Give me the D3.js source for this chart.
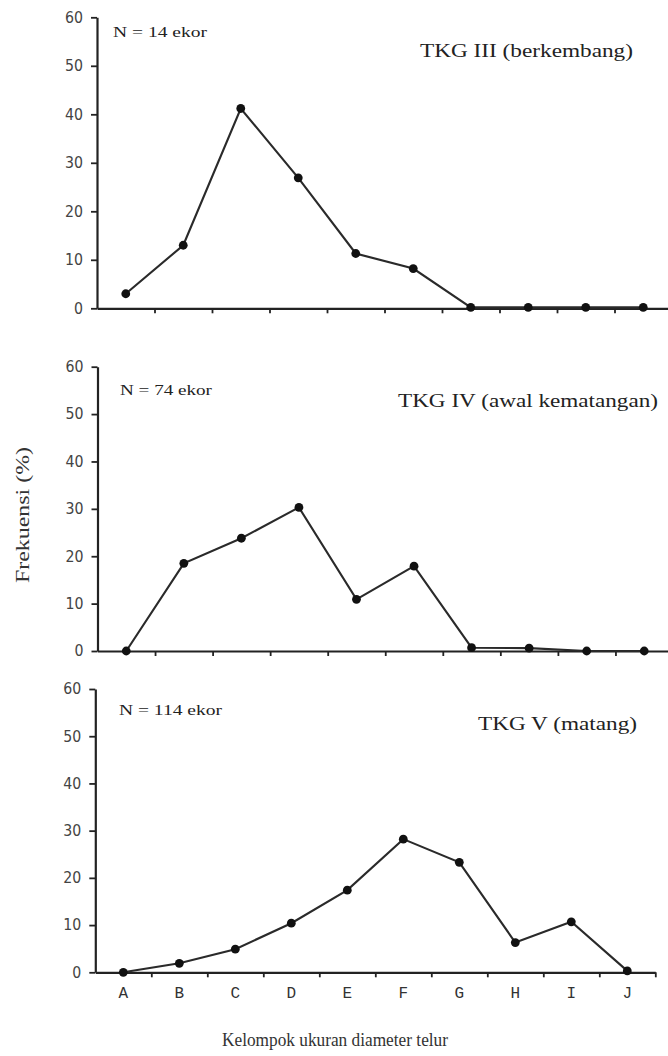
<!DOCTYPE html>
<html><head><meta charset="utf-8">
<script src="https://cdn.jsdelivr.net/npm/d3@7"></script>
<style>body{margin:0;background:#fff}svg{display:block}</style>
</head><body>
<svg id="c" width="668" height="1056"></svg>
<script>
const categories = ["A","B","C","D","E","F","G","H","I","J"];
const yTicks = [0,10,20,30,40,50,60];
const tkg3 = [3, 13, 41.2, 26.9, 11.3, 8.2, 0.2, 0.2, 0.2, 0.2];
const tkg4 = [0, 18.5, 23.8, 30.3, 10.9, 17.9, 0.7, 0.6, 0, 0];
const tkg5 = [0, 1.9, 4.9, 10.4, 17.4, 28.2, 23.3, 6.3, 10.7, 0.3];
const panelTitles = ["TKG III (berkembang)", "TKG IV (awal kematangan)", "TKG V (matang)"];
const panelN = ["N = 14 ekor", "N = 74 ekor", "N = 114 ekor"];
const yTitle = "Frekuensi (%)";
const xTitle = "Kelompok ukuran diameter telur";

const svg = d3.select("#c");
const panels = [
  {data: tkg3, y0: 308.3, y60: 17.3, x0: 97, x1: 672, labels: false,
   n: {x: 113, y: 37, w: 94}, t: {x: 420, y: 57, w: 213}},
  {data: tkg4, y0: 651, y60: 366.7, x0: 97.5, x1: 673, labels: false,
   n: {x: 120, y: 395, w: 92}, t: {x: 398, y: 407, w: 260}},
  {data: tkg5, y0: 972.3, y60: 689, x0: 95.3, x1: 655.3, labels: true,
   n: {x: 119, y: 715, w: 103}, t: {x: 478, y: 730, w: 159}}
];

panels.forEach((p, i) => {
  const g = svg.append("g");
  const y = d3.scaleLinear().domain([0, 60]).range([p.y0, p.y60]);
  const x = d3.scaleBand().domain(categories).range([p.x0, p.x1]).padding(0);
  const xb = d3.scaleLinear().domain([0, categories.length]).range([p.x0, p.x1]);

  const ya = g.append("g").attr("transform", `translate(${p.x0},0)`)
    .call(d3.axisLeft(y).tickValues(yTicks).tickSize(6).tickPadding(8).tickSizeOuter(0));
  ya.select(".domain").attr("stroke", "#222").attr("stroke-width", 2.2);
  ya.selectAll(".tick line").attr("stroke", "#222").attr("stroke-width", 1.8);
  ya.selectAll(".tick text").attr("font-family", "DejaVu Sans").attr("font-size", 15)
    .attr("fill", "#444").attr("textLength", d => d === 0 ? 9 : 18).attr("lengthAdjust", "spacingAndGlyphs");

  const xa = g.append("g").attr("transform", `translate(0,${p.y0})`)
    .call(d3.axisBottom(xb).tickValues(d3.range(1, categories.length + (p.labels ? 1 : 0))).tickSize(5).tickFormat("").tickSizeOuter(0));
  xa.select(".domain").attr("stroke", "#222").attr("stroke-width", 2.2);
  xa.selectAll(".tick line").attr("stroke", "#222").attr("stroke-width", 1.8);

  if (p.labels) {
    const xl = g.append("g").attr("transform", `translate(0,${p.y0})`)
      .call(d3.axisBottom(x).tickSize(0).tickPadding(14));
    xl.select(".domain").remove();
    xl.selectAll(".tick text").attr("font-family", "Liberation Mono").attr("font-size", 16)
      .attr("fill", "#333");
  }

  const line = d3.line().x((d, j) => x(categories[j]) + x.bandwidth() / 2).y(d => y(d));
  g.append("path").datum(p.data).attr("d", line).attr("fill", "none")
    .attr("stroke", "#2a2a2a").attr("stroke-width", 2.1);
  g.selectAll("circle").data(p.data).join("circle")
    .attr("cx", (d, j) => x(categories[j]) + x.bandwidth() / 2)
    .attr("cy", d => y(d)).attr("r", 4.4).attr("fill", "#111");

  g.append("text").attr("x", p.n.x).attr("y", p.n.y).text(panelN[i])
    .attr("font-family", "Liberation Serif").attr("font-size", 15).attr("fill", "#222")
    .attr("textLength", p.n.w).attr("lengthAdjust", "spacingAndGlyphs");
  g.append("text").attr("x", p.t.x).attr("y", p.t.y).text(panelTitles[i])
    .attr("font-family", "Liberation Serif").attr("font-size", 18).attr("fill", "#222")
    .attr("textLength", p.t.w).attr("lengthAdjust", "spacingAndGlyphs");
});

svg.append("text").attr("transform", "translate(29,515) rotate(-90)")
  .attr("text-anchor", "middle").text(yTitle)
  .attr("font-family", "Liberation Serif").attr("font-size", 19).attr("fill", "#333")
  .attr("textLength", 136).attr("lengthAdjust", "spacingAndGlyphs");
svg.append("text").attr("x", 335).attr("y", 1046)
  .attr("text-anchor", "middle").text(xTitle)
  .attr("font-family", "Liberation Serif").attr("font-size", 19).attr("fill", "#333")
  .attr("textLength", 226).attr("lengthAdjust", "spacingAndGlyphs");
</script>
</body></html>
